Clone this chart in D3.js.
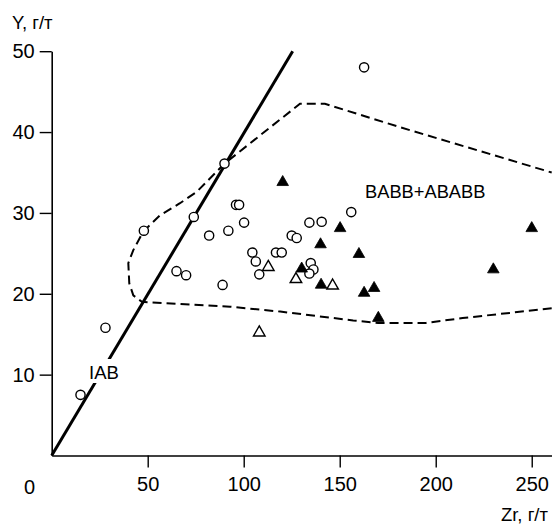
<!DOCTYPE html>
<html>
<head>
<meta charset="utf-8">
<script src="https://cdn.jsdelivr.net/npm/d3@7"></script>
<style>
  body { margin: 0; background: #fff; }
  svg { display: block; font-family: "Liberation Sans", Arial, sans-serif; }
</style>
</head>
<body>
<div id="chart"></div>
<script>
// Zr (x) vs Y (y), g/t
const xTicks = [50, 100, 150, 200, 250];
const yTicks = [10, 20, 30, 40, 50];

const circles = [
  [15, 7.5], [28, 15.8], [48, 27.8], [65, 22.8], [70, 22.3], [74, 29.5],
  [82, 27.2], [89, 21.1], [90, 36.1], [92, 27.8], [96, 31], [97.6, 31],
  [100.2, 28.8], [104.5, 25.1], [106.3, 24], [108.1, 22.4], [116.8, 25.1],
  [119.8, 25.1], [125, 27.2], [127.6, 26.9], [134.2, 28.8], [140.6, 28.9],
  [134.9, 23.8], [136.3, 23], [134.2, 22.5], [156, 30.1], [162.7, 48]
];
const filledTriangles = [
  [120.3, 33.8], [130.2, 23.1], [140, 26.1], [140.3, 21.1], [150.2, 28.1],
  [160, 24.9], [162.7, 20.1], [167.9, 20.7], [170.1, 17], [230, 23], [250, 28.1]
];
const openTriangles = [
  [108.1, 15.2], [112.8, 23.3], [127.2, 21.8], [146.3, 21]
];

// IAB discrimination line
const iabLine = [[0, 0], [125.5, 50]];

// BABB+ABABB field boundary (open dashed path)
const fieldBoundary = [
  [260.4, 18.2], [214, 17], [195, 16.4], [170, 16.4], [157, 16.7], [119, 17.8],
  [93, 18.4], [47, 19], [42.5, 19.8], [40.4, 21.3], [39.9, 23.8], [42.5, 25.4],
  [47.7, 27.7], [56.4, 29.7], [66.8, 31.2], [75.5, 32.6], [90, 36.1],
  [129.3, 43.5], [142.3, 43.5], [181.4, 40.6], [260.4, 35]
];

const W = 552, H = 524;
const svg = d3.select("#chart").append("svg")
  .attr("width", W).attr("height", H);

const x = d3.scaleLinear().domain([0, 260.4]).range([51.7, 551.7]);
const y = d3.scaleLinear().domain([0, 50]).range([455.5, 51.2]);

// x axis
const xAxis = svg.append("g")
  .attr("transform", `translate(0,${y(0)})`)
  .call(d3.axisBottom(x).tickValues(xTicks).tickSize(12).tickSizeOuter(0).tickPadding(9));
xAxis.select(".domain").attr("stroke-width", 1.6);
xAxis.selectAll(".tick line").attr("stroke-width", 1.4);
xAxis.selectAll(".tick text").attr("font-size", 20).attr("fill", "#000")
  .attr("font-family", "Liberation Sans, Arial, sans-serif");

// y axis
const yAxis = svg.append("g")
  .attr("transform", `translate(${x(0)},0)`)
  .call(d3.axisLeft(y).tickValues(yTicks).tickSize(12).tickSizeOuter(0).tickPadding(5));
yAxis.select(".domain").attr("stroke-width", 1.6);
yAxis.selectAll(".tick line").attr("stroke-width", 1.4);
yAxis.selectAll(".tick text").attr("font-size", 20).attr("fill", "#000")
  .attr("font-family", "Liberation Sans, Arial, sans-serif");

// lone origin label
svg.append("text")
  .attr("x", 29.5).attr("y", 494)
  .attr("text-anchor", "middle").attr("font-size", 20).text("0");

// axis titles
svg.append("text").attr("x", 12).attr("y", 29)
  .attr("font-size", 18.5).text("Y, г/т");
svg.append("text").attr("x", 548).attr("y", 521)
  .attr("text-anchor", "end").attr("font-size", 18.5).text("Zr, г/т");

// dashed field
const line = d3.line().x(d => x(d[0])).y(d => y(d[1]));
svg.append("path")
  .datum(fieldBoundary)
  .attr("d", line)
  .attr("fill", "none")
  .attr("stroke", "#000")
  .attr("stroke-width", 2)
  .attr("stroke-dasharray", "9,5");

// IAB line
svg.append("path")
  .datum(iabLine)
  .attr("d", line)
  .attr("fill", "none")
  .attr("stroke", "#000")
  .attr("stroke-width", 3);

// IAB label with white box over the line
const iab = svg.append("g");
const iabText = iab.append("text")
  .attr("x", 89).attr("y", 379)
  .attr("font-size", 18.5).text("IAB");
const bb = iabText.node().getBBox();
iab.insert("rect", "text")
  .attr("x", bb.x - 1).attr("y", bb.y - 3)
  .attr("width", bb.width + 2).attr("height", bb.height + 3)
  .attr("fill", "#fff");

svg.append("text")
  .attr("x", 365).attr("y", 198)
  .attr("font-size", 18.3).text("BABB+ABABB");

// points
svg.append("g").selectAll("circle")
  .data(circles).join("circle")
  .attr("cx", d => x(d[0])).attr("cy", d => y(d[1]))
  .attr("r", 4.6)
  .attr("fill", "#fff").attr("stroke", "#000").attr("stroke-width", 1.4);

const tri = d3.symbol().type(d3.symbolTriangle).size(58);
svg.append("g").selectAll("path")
  .data(openTriangles).join("path")
  .attr("d", tri)
  .attr("transform", d => `translate(${x(d[0])},${y(d[1])})`)
  .attr("fill", "#fff").attr("stroke", "#000").attr("stroke-width", 1.4);

svg.append("g").selectAll("path")
  .data(filledTriangles).join("path")
  .attr("d", tri)
  .attr("transform", d => `translate(${x(d[0])},${y(d[1])})`)
  .attr("fill", "#000").attr("stroke", "#000").attr("stroke-width", 0.8);
</script>
</body>
</html>
